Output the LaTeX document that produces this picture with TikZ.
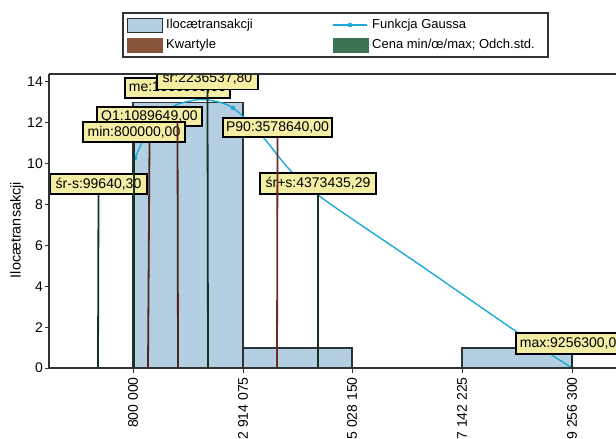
\documentclass[tikz,border=0pt]{standalone}
\usepackage{fontspec}
\setmainfont{Liberation Sans}
\definecolor{barblue}{RGB}{180,207,226}
\definecolor{edgegray}{RGB}{45,50,55}
\definecolor{qbrown}{RGB}{80,38,30}
\definecolor{pbrown}{RGB}{105,45,35}
\definecolor{mgreen}{RGB}{22,48,36}
\definecolor{gausscol}{RGB}{30,170,215}
\definecolor{lblyellow}{RGB}{244,238,165}
\definecolor{legbrown}{RGB}{135,85,55}
\definecolor{leggreen}{RGB}{60,115,85}
\begin{document}
\begin{tikzpicture}[x=1pt,y=-1pt,
  font=\fontsize{14}{16}\selectfont,
  lbl/.style={draw=black, line width=1.4pt, fill=lblyellow, inner sep=0pt, minimum height=20pt},
  qline/.style={draw=qbrown, line width=1.8pt},
  mline/.style={draw=mgreen, line width=1.8pt},
  barbox/.style={fill=barblue, draw=edgegray, line width=1.8pt},
  swatch/.style={draw=edgegray, line width=1pt, minimum width=35pt, minimum height=14pt, inner sep=0pt},
  legtxt/.style={anchor=west, inner sep=0pt, font=\fontsize{13}{15}\selectfont},
  ticklbl/.style={inner sep=0pt}]
\useasboundingbox (0,0) rectangle (616,439);
\fill[white] (0,0) rectangle (616,439);

% legend
\node[draw=edgegray, line width=1.3pt, minimum width=425pt, minimum height=44pt, inner sep=0pt] (legend) at (335.5,35) {};
\node[swatch, fill=barblue] (sw1) at (144.5,25) {};
\node[legtxt] (lt1) at (166,25) {Ilocætransakcji};
\node[swatch, fill=legbrown, draw=legbrown] (sw2) at (144.5,45) {};
\node[legtxt] (lt2) at (166,45) {Kwartyle};
\coordinate (gl1) at (333,25);
\coordinate (gl2) at (367,25);
\draw[gausscol, line width=1.3pt] (gl1) -- (gl2);
\fill[gausscol] (350,25) circle (2.3pt);
\node[legtxt] (lt3) at (372,25) {Funkcja Gaussa};
\node[swatch, fill=leggreen, draw=leggreen] (sw3) at (351,45) {};
\node[legtxt] (lt4) at (372,45) {Cena min/œ/max; Odch.std.};

% plot content
\begin{scope}
\clip (49,74) rectangle (630,370);
\draw[barbox] (133,368) rectangle (243,102.4);
\draw[barbox] (243,368) rectangle (352,348);
\draw[barbox] (462,368) rectangle (572,348);
\draw[gausscol, line width=1.4pt] plot[smooth, tension=0.55] coordinates {
  (135,158) (150,128) (170,108) (190,101) (208,100) (233,108) (262,136)
  (290,170) (322,198) (420,265) (517,332) (572,368)};
\fill[gausscol] (135,158) circle (2.3pt);
\fill[gausscol] (233,108) circle (2.3pt);

\coordinate (b-srs) at (98,368);
\coordinate (b-min) at (134,368);
\coordinate (b-q1) at (148,368);
\coordinate (b-me) at (178,368);
\coordinate (b-sr) at (208,368);
\coordinate (b-p90) at (277,368);
\coordinate (b-srps) at (318,368);
\coordinate (b-max) at (572,368);

\node[lbl, minimum width=97pt] (srs) at (98.5,184) {śr-s:99640,30};
\node[lbl, minimum width=109pt, minimum height=19pt] (p90) at (277.5,127.5) {P90:3578640,00};
\node[lbl, minimum width=116pt, minimum height=21pt] (srps) at (318,183.5) {śr+s:4373435,29};
\node[lbl, minimum width=105pt, minimum height=19pt] (q1) at (149.5,116.5) {Q1:1089649,00};
\node[lbl, minimum width=102pt] (min) at (134,132) {min:800000,00};
\node[lbl, minimum width=105pt] (me) at (177.5,88) {me:1666900,00};
\node[lbl, minimum width=101pt, minimum height=22pt] (sr) at (207.5,78.5) {śr:2236537,80};
\node[lbl, minimum width=112pt, minimum height=21pt] (max) at (572,343.5) {max:9256300,00};

\draw[mline] (b-srs) -- (srs.south);
\draw[mline, line width=2.6pt] (b-min) -- (min.south);
\draw[qline] (b-q1) -- (q1.south |- min.south);
\draw[qline] (b-me) -- (me.south |- min.north);
\draw[mline] (b-sr) -- (sr.south);
\draw[qline, draw=pbrown] (b-p90) -- (p90.south);
\draw[mline] (b-srps) -- (srps.south);
\draw[mline] (b-max) -- (max.south);
\end{scope}

% axes
\coordinate (o) at (49,368);
\coordinate (ytop) at (49,74);
\coordinate (xend) at (616,368);
\coordinate (trend) at (616,74);
\draw[edgegray, line width=1.2pt] (ytop) -- (trend);
\draw[edgegray, line width=2.4pt] (ytop) -- (o) -- (xend);

% y ticks
\foreach \v in {0,2,...,14} {
  \coordinate (yt\v) at (49,368-20.43*\v);
  \draw[edgegray, line width=1pt] (yt\v) -- ++(-4,0);
  \node[ticklbl, anchor=east] (yl\v) at (43,368-20.43*\v) {\v};
}
\node[rotate=90, inner sep=0pt, font=\fontsize{14.4}{16}\selectfont] (ytitle) at (17,230) {Ilocætransakcji};

% x ticks
\foreach \xx/\t [count=\i] in {133/800 000, 243/2 914 075, 352/5 028 150, 462/7 142 225, 572/9 256 300} {
  \coordinate (xt\i) at (\xx,368);
  \draw[edgegray, line width=1pt] (xt\i) -- ++(0,5);
  \node[ticklbl, rotate=90, anchor=east] (xl\i) at (\xx,377) {\t};
}
\end{tikzpicture}
\end{document}
